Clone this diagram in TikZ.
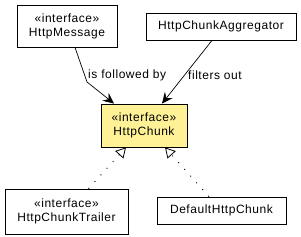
\documentclass[tikz,border=0pt]{standalone}
\usepackage{fontspec}
\setmainfont{Liberation Sans}[LetterSpace=4.5]
\usetikzlibrary{arrows.meta,calc}
\definecolor{ifyellow}{RGB}{255,242,150}
\tikzset{
  umlbox/.style={draw=black, line width=0.8pt, fill=white, inner sep=0pt, align=center,
    font=\fontsize{12}{14}\selectfont},
  navarrow/.style={line width=0.7pt, -{Stealth[length=11pt,width=10pt,inset=4pt]}},
  realize/.style={line width=0.9pt, dash pattern=on 1pt off 8pt,
    -{Triangle[open,length=10pt,width=11pt,line width=0.8pt]}},
  lbl/.style={font=\fontsize{12}{14}\selectfont, inner sep=0pt, anchor=west}
}
\begin{document}
\begin{tikzpicture}[x=1pt,y=-1pt]
\useasboundingbox[fill=white] (0,0) rectangle (301,237);
\node[umlbox, minimum width=100pt, minimum height=42pt] (msg) at (67,26) {«interface»\\HttpMessage};
\node[umlbox, minimum width=150pt, minimum height=27pt] (agg) at (221,26.5) {HttpChunkAggregator};
\node[umlbox, fill=ifyellow, minimum width=86pt, minimum height=43pt] (chunk) at (144,125.5) {«interface»\\HttpChunk};
\node[umlbox, minimum width=123pt, minimum height=45pt] (trailer) at (66.5,211.5) {«interface»\\HttpChunkTrailer};
\node[umlbox, minimum width=129pt, minimum height=27pt] (dflt) at (221.5,210.5) {DefaultHttpChunk};
\coordinate (bend) at (87,82);
\draw[navarrow] ([xshift=8pt]msg.south) -- (bend) -- ([xshift=-30pt]chunk.north);
\draw[navarrow] ([xshift=-9pt]agg.south) -- ([xshift=18pt]chunk.north);
\node[lbl] (l1) at (88,75) {is followed by};
\node[lbl] (l2) at (188,75) {filters out};
\draw[realize] ([xshift=22pt]trailer.north) -- ([xshift=-18pt]chunk.south);
\draw[realize] ([xshift=-12.5pt]dflt.north) -- ([xshift=21pt]chunk.south);
\end{tikzpicture}
\end{document}
